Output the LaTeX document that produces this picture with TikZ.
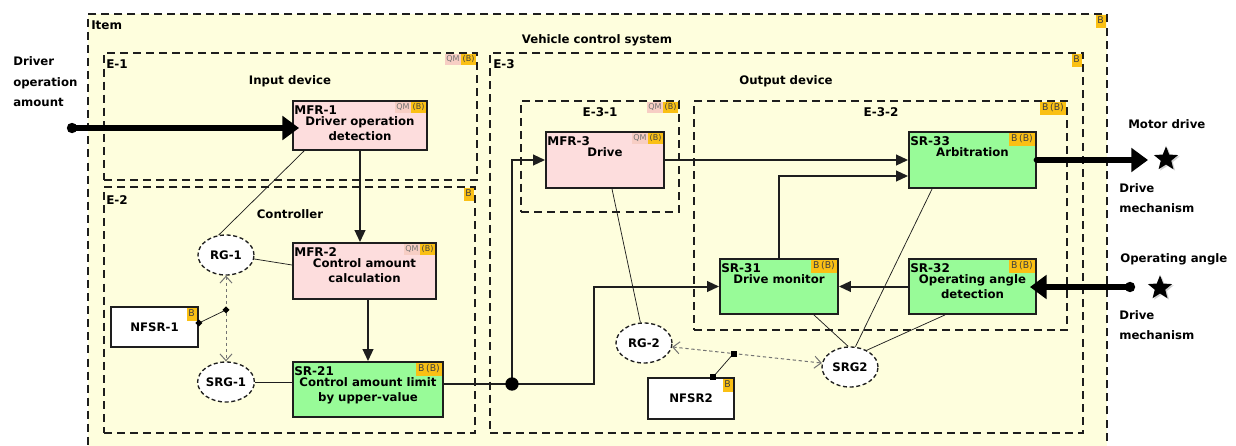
\documentclass[tikz,border=0pt]{standalone}
\usepackage{fontspec}
\setmainfont{DejaVu Sans}
\usetikzlibrary{arrows.meta,shapes.geometric,calc,shadows}

\definecolor{itembg}{RGB}{254,254,221}
\definecolor{mfrpink}{RGB}{253,221,221}
\definecolor{srgreen}{RGB}{152,251,152}
\definecolor{asilor}{RGB}{250,192,20}
\definecolor{qmpink}{RGB}{247,206,196}
\definecolor{inkline}{RGB}{30,30,30}

\newcommand{\txtfont}{\bfseries\fontsize{8.8}{11.3}\selectfont}
\newcommand{\idfont}{\bfseries\fontsize{9}{10}\selectfont}
\newcommand{\sidefont}{\bfseries\fontsize{8.8}{15.4}\selectfont}
\newcommand{\tagfont}{\fontsize{7}{7}\selectfont}
\newcommand{\qmfont}{\fontsize{6}{6}\selectfont}

% node placed by its two corners (x1,y1) (x2,y2)
\newcommand{\cornerbox}[6]{%
  \node[#6, minimum width={(#4-#2)*0.75pt}, minimum height={(#5-#3)*0.75pt}]
    (#1) at ({(#2+#4)/2},{(#3+#5)/2}) {};}

% requirement block: name, corners, style, identifier, description
\newcommand{\reqblock}[8]{%
  \cornerbox{#1}{#2}{#3}{#4}{#5}{#6}
  \node[idtext] (#1-id) at ($(#1.north west)+(2,5.5)$) {#7};
  \node[bodytext] (#1-txt) at ($(#1.north)+(0,16.5)$) {#8};}

% ASIL tags in the upper right corner
\newcommand{\tagB}[2]{\node[tagbox, anchor=north east] (#1) at (#2) {B};}
\newcommand{\tagBB}[2]{\node[tagbox, anchor=north east] (#1) at (#2) {B\,(B)};}
\newcommand{\tagQM}[2]{%
  \node[qmtag, anchor=north east] (#1) at (#2) {(B)};
  \node[qmbox, anchor=north east] (#1-qm) at (#1.north west) {QM};}

\begin{document}
\begin{tikzpicture}[x=0.75pt,y=-0.75pt,
  area/.style={draw=inkline, line width=1.2pt, dash pattern=on 6pt off 3.8pt, inner sep=0pt},
  blockbox/.style={draw=inkline, line width=1.4pt, inner sep=0pt},
  mfr/.style={blockbox, fill=mfrpink},
  sr/.style={blockbox, fill=srgreen},
  nfsr/.style={blockbox, fill=white},
  idtext/.style={anchor=north west, inner sep=0pt, font=\idfont},
  headtext/.style={anchor=north, inner sep=0pt, font=\idfont},
  titletext/.style={anchor=north, inner sep=0pt, font=\txtfont},
  bodytext/.style={anchor=north, inner sep=0pt, align=center, font=\txtfont},
  plain/.style={inner sep=0pt, font=\txtfont},
  sidetext/.style={anchor=north west, inner sep=0pt, align=left, font=\sidefont},
  goal/.style={ellipse, draw=inkline, line width=1pt, dash pattern=on 3pt off 2pt,
    fill=white, minimum width=42pt, minimum height=30pt, inner sep=0pt, font=\txtfont},
  tagbox/.style={fill=asilor, inner xsep=1.4pt, inner ysep=1.3pt, text height=5.2pt,
    text depth=1.5pt, font=\tagfont, text=black!75},
  qmtag/.style={fill=asilor, inner xsep=1pt, inner ysep=0.9pt, text height=4.6pt,
    text depth=1.3pt, font=\qmfont, text=black!75},
  qmbox/.style={fill=qmpink, inner xsep=1pt, inner ysep=0.9pt, text height=4.6pt,
    text depth=1.3pt, font=\qmfont, text=black!55},
  flow/.style={draw=inkline, line width=1.5pt, -{Triangle[length=9pt,width=8pt]}},
  bigflow/.style={draw=black, line width=5pt, {Circle[length=7.5pt]}-{Triangle[length=12.5pt,width=17.5pt]}},
  bigout/.style={draw=black, line width=5pt, line cap=round, -{Triangle[length=12.5pt,width=17.5pt]}},
  assoc/.style={draw=inkline, line width=0.55pt},
  dep/.style={draw=black!55, line width=0.75pt, dash pattern=on 2.5pt off 2pt,
    {Straight Barb[length=5pt,width=9pt]}-{Straight Barb[length=5pt,width=9pt]}},
  dmark/.style={diamond, fill=black, inner sep=0pt, minimum size=5.5pt},
  smark/.style={rectangle, fill=black, inner sep=0pt, minimum size=4.5pt},
  junction/.style={circle, fill=black, inner sep=0pt, minimum size=10pt},
  starmark/.style={star, star points=5, star point ratio=2.3, fill=black, inner sep=0pt,
    minimum size=19pt, drop shadow={shadow xshift=1.2pt, shadow yshift=-1pt, opacity=0.35}}
]
\useasboundingbox (0,0) rectangle (1236,446);
\clip (0,0) rectangle (1236,446);
\fill[white] (0,0) rectangle (1236,446);

% ---------- element boundaries ----------
\cornerbox{item}{88}{14}{1107}{480}{area, fill=itembg}
\cornerbox{e1}{104}{53}{477}{180}{area}
\cornerbox{e2}{104}{187}{475}{433}{area}
\cornerbox{e3}{490}{53}{1083}{433}{area}
\cornerbox{e31}{521}{101}{679}{212}{area}
\cornerbox{e32}{694}{101}{1067}{330}{area}

\node[idtext] (item-id) at (91,20) {Item};
\node[idtext] (e1-id) at (106,59) {E-1};
\node[idtext] (e2-id) at (106,195) {E-2};
\node[idtext] (e3-id) at (493,59) {E-3};
\node[headtext] (e31-id) at (600,107) {E-3-1};
\node[headtext] (e32-id) at (881,107) {E-3-2};
\node[titletext] (vcs) at (597,34) {Vehicle control system};
\node[titletext] (indev) at (290,75) {Input device};
\node[titletext] (ctrl) at (290,209) {Controller};
\node[titletext] (outdev) at (786,75) {Output device};

\tagB{item-tag}{1106,15}
\tagQM{e1-tag}{476,54}
\tagB{e2-tag}{474,188}
\tagB{e3-tag}{1082,54}
\tagQM{e31-tag}{678,102}
\tagBB{e32-tag}{1066,102}

% ---------- requirement blocks ----------
\reqblock{mfr1}{293}{101}{427}{150}{mfr}{MFR-1}{Driver operation\\detection}
\reqblock{mfr2}{293}{243}{436}{299}{mfr}{MFR-2}{Control amount\\calculation}
\reqblock{sr21}{293}{362}{443}{417}{sr}{SR-21}{Control amount limit\\by upper-value}
\reqblock{mfr3}{546}{132}{664}{188}{mfr}{MFR-3}{Drive}
\reqblock{sr33}{909}{132}{1036}{188}{sr}{SR-33}{Arbitration}
\reqblock{sr31}{720}{259}{838}{314}{sr}{SR-31}{Drive monitor}
\reqblock{sr32}{909}{259}{1036}{314}{sr}{SR-32}{Operating angle\\detection}

\tagQM{mfr1-tag}{426,102}
\tagQM{mfr2-tag}{435,244}
\tagBB{sr21-tag}{442,363}
\tagQM{mfr3-tag}{663,133}
\tagBB{sr33-tag}{1035,133}
\tagBB{sr31-tag}{837,260}
\tagBB{sr32-tag}{1035,260}

\cornerbox{nfsr1}{111}{307}{198}{347}{nfsr}
\node[plain] (nfsr1-txt) at (nfsr1) {NFSR-1};
\tagB{nfsr1-tag}{197,308}
\cornerbox{nfsr2}{648}{378}{734}{419}{nfsr}
\node[plain] (nfsr2-txt) at (nfsr2) {NFSR2};
\tagB{nfsr2-tag}{733,379}

% ---------- safety goals ----------
\node[goal] (rg1) at (226,255) {RG-1};
\node[goal] (srg1) at (226,382) {SRG-1};
\node[goal] (rg2) at (644,343) {RG-2};
\node[goal] (srg2) at (850,367) {SRG2};

% ---------- allocation links ----------
\draw[assoc] ($(mfr1.south west)+(12,0)$) -- (rg1.110);
\draw[assoc] (rg1.-8) -- ($(mfr2.west)+(0,-6)$);
\draw[assoc] (srg1.east) -- (sr21.west |- srg1.east);
\draw[assoc] ($(mfr3.south)+(7,0)$) -- (rg2.100);
\draw[assoc] ($(sr33.south west)+(24,0)$) -- (srg2.75);
\draw[assoc] ($(sr31.south east)+(-25,0)$) -- (srg2.95);
\draw[assoc] ($(sr32.south)+(-27.5,0)$) -- (srg2.45);

% ---------- goal refinement with non-functional requirements ----------
\draw[dep] (rg1.south) -- (srg1.north);
\coordinate (m1) at ($(rg1.south)!0.4!(srg1.north)$);
\coordinate (n1) at ($(nfsr1.east)+(0,-4)$);
\draw[assoc] (n1) -- (m1);
\node[dmark] (m1-mark) at (m1) {};
\node[dmark] (n1-mark) at (n1) {};

\draw[dep] (rg2.-8) -- (srg2.172);
\coordinate (m2) at ($(rg2.-8)!0.41!(srg2.172)$);
\coordinate (n2) at ($(nfsr2.north)+(22,0)$);
\draw[assoc] (n2) -- (m2);
\node[smark] (m2-mark) at (m2) {};
\node[smark] (n2-mark) at (n2) {};

% ---------- signal flow ----------
\draw[flow] (mfr1.south) -- (mfr1.south |- mfr2.north);
\draw[flow] (sr21.north |- mfr2.south) -- (sr21.north);
\coordinate (j) at (512,384);
\coordinate (bend) at (594,384);
\draw[draw=inkline, line width=1.5pt] (sr21.east |- j) -- (j);
\draw[flow] (j) |- (mfr3.west);
\draw[flow] (j) -- (bend) |- (sr31.west);
\node[junction] (j-dot) at (j) {};
\draw[flow] (mfr3.east) -- (sr33.west);
\draw[flow] (sr31.north) |- ($(sr33.west)+(0,16)$);
\draw[flow] (sr32.west) -- (sr31.east);

% ---------- external interfaces ----------
\coordinate (doa) at (67,128);
\draw[bigflow] (doa) -- ($(mfr1.west |- doa)+(7,0)$);
\node[sidetext] (doa-txt) at (13,56.5) {Driver\\operation\\amount};

\coordinate (mdend) at (1148,160);
\draw[bigout] (sr33.east |- mdend) -- (mdend);
\node[starmark] (star1) at (1166,159) {};
\node[sidetext] (md-txt) at (1128,119) {Motor drive};
\node[sidetext] (dm1-txt) at (1119,183) {Drive\\mechanism};

\coordinate (oa) at (1135,287);
\draw[bigflow] (oa) -- ($(sr32.east |- oa)+(-7,0)$);
\node[starmark] (star2) at (1160,288) {};
\node[sidetext] (oa-txt) at (1120,253) {Operating angle};
\node[sidetext] (dm2-txt) at (1119,310) {Drive\\mechanism};
\end{tikzpicture}
\end{document}
